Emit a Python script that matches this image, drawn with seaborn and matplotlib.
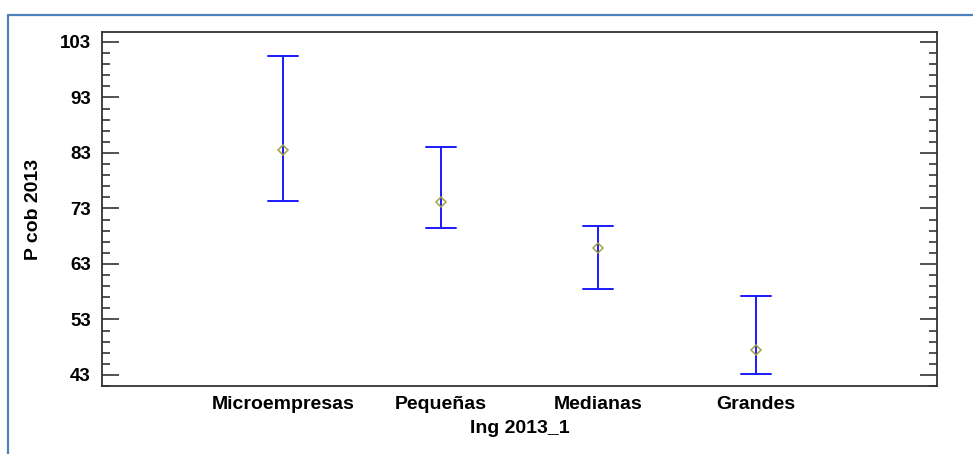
import pandas as pd
import seaborn as sns
import matplotlib.pyplot as plt
from matplotlib.lines import Line2D

# valores (media e intervalo por grupo)
grupos = ["Microempresas", "Pequeñas", "Medianas", "Grandes"]
medias = [83.5, 74.1, 65.9, 47.4]
inferior = [74.3, 69.4, 58.5, 43.1]
superior = [100.4, 84.0, 69.8, 57.3]

y_ticks = [43, 53, 63, 73, 83, 93, 103]

# tabla larga: la mediana es la media, min/max son los limites
filas = []
for g, lo, m, hi in zip(grupos, inferior, medias, superior):
    for v in (lo, m, hi):
        filas.append({"Ing 2013_1": g, "P cob 2013": v})
df = pd.DataFrame(filas)

sns.set_style("ticks")
plt.rcParams["font.family"] = ["Liberation Sans", "DejaVu Sans"]
plt.rcParams["font.weight"] = "bold"
plt.rcParams["text.color"] = "black"
plt.rcParams["axes.labelcolor"] = "black"
plt.rcParams["xtick.color"] = "black"
plt.rcParams["ytick.color"] = "black"

fig = plt.figure(figsize=(9.73, 4.54), dpi=100)
ax = fig.add_axes([102 / 973, 1 - 386 / 454, 835 / 973, 354 / 454])

sns.pointplot(
    data=df, x="Ing 2013_1", y="P cob 2013",
    estimator="median", errorbar=lambda v: (v.min(), v.max()),
    linestyle="none", marker="D", capsize=0.19,
    color="#a3a340", markerfacecolor="none", markeredgecolor="#a3a340",
    markersize=5.5, markeredgewidth=1.1,
    err_kws={"color": "#1a1aff", "linewidth": 1.4, "zorder": 1},
    ax=ax,
)

ax.set_xlim(-1.15, 4.15)
ax.set_ylim(41.2, 104.8)
ax.set_yticks(y_ticks)
ax.set_yticks([v for v in range(41, 105, 2)], minor=True)

ax.tick_params(axis="y", which="major", direction="in", length=12, width=1.1,
               left=True, right=True, labelsize=13.5, pad=8, color="#222222")
ax.tick_params(axis="y", which="minor", direction="in", length=6, width=1.1,
               left=True, right=True, color="#222222")
ax.tick_params(axis="x", which="both", length=0, labelsize=14, pad=7)

for s in ax.spines.values():
    s.set_visible(True)
    s.set_color("#333333")
    s.set_linewidth(1.3)

ax.set_xlabel("Ing 2013_1", fontsize=14, fontweight="bold")
ax.set_ylabel("P cob 2013", fontsize=14, fontweight="bold")
ax.xaxis.set_label_coords(0.5, -0.095)
ax.yaxis.set_label_coords(-0.072, 0.5)

# marco azul de la imagen original
borde = "#4f81bd"
fig.add_artist(Line2D([8 / 973, 8 / 973], [0, 1 - 15 / 454], color=borde, lw=1.6))
fig.add_artist(Line2D([8 / 973, 1], [1 - 15 / 454, 1 - 15 / 454], color=borde, lw=1.6))

fig.savefig("out.png", dpi=100)
